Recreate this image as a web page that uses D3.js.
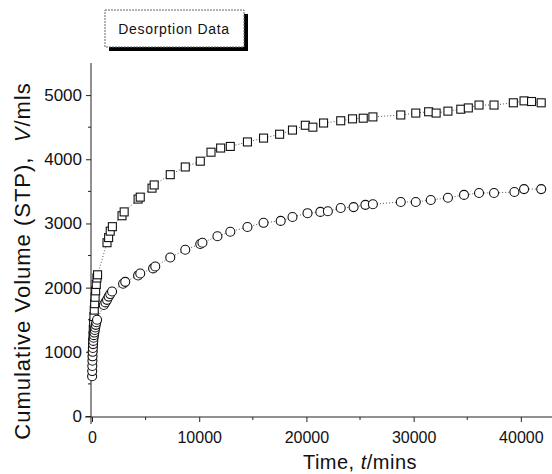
<!DOCTYPE html>
<html>
<head>
<meta charset="utf-8">
<script src="https://cdn.jsdelivr.net/npm/d3@7"></script>
<style>
  body { margin: 0; background: #fff; }
  svg { display: block; font-family: "Liberation Sans", Arial, sans-serif; }
</style>
</head>
<body>
<svg width="552" height="474"></svg>
<script>
(function (d3) {
  'use strict';

  // Upper series (squares)
  const squareTime = [40, 60, 80, 100, 120, 150, 180, 210, 250, 290, 340, 400, 460, 520,
    1400, 1550, 1700, 1900, 2800, 3000, 4300, 4500, 5600, 5800, 7300, 8700, 10100,
    11100, 12000, 12900, 14500, 16000, 17500, 18700, 19900, 20600, 21600, 23200,
    24300, 25300, 26200, 28800, 30200, 31400, 32100, 33200, 34400, 35100, 36100,
    37500, 39300, 40300, 41000, 41900];
  const squareVolume = [950, 1050, 1150, 1250, 1350, 1450, 1550, 1650, 1750, 1850, 1950, 2050, 2150, 2200,
    2700, 2780, 2880, 2950, 3120, 3180, 3380, 3410, 3550, 3600, 3760, 3880, 3970,
    4110, 4175, 4200, 4270, 4330, 4390, 4455, 4530, 4500, 4565, 4600,
    4630, 4640, 4660, 4690, 4720, 4740, 4720, 4750, 4780, 4800, 4845,
    4845, 4880, 4910, 4900, 4880];

  // Lower series (circles)
  const circleTime = [10, 20, 30, 40, 50, 60, 80, 100, 120, 150, 180, 220, 260, 300, 350, 400, 470,
    1100, 1250, 1400, 1550, 1700, 1870, 2900, 3100, 4300, 4500, 5700, 5900, 7300, 8700,
    10100, 10300, 11700, 12900, 14500, 16000, 17600, 18700, 20100, 21300, 22000,
    23200, 24400, 25500, 26200, 28800, 30200, 31600, 33200, 34700, 36100, 37500,
    39400, 40300, 41900];
  const circleVolume = [620, 700, 780, 860, 930, 1000, 1060, 1120, 1170, 1220, 1260, 1300, 1340, 1380, 1420, 1460, 1500,
    1730, 1770, 1810, 1860, 1900, 1940, 2060, 2090, 2190, 2220, 2300, 2330, 2470, 2590,
    2680, 2700, 2800, 2870, 2945, 3010, 3040, 3100, 3160, 3180, 3190,
    3240, 3255, 3290, 3300, 3335, 3335, 3365, 3400, 3445, 3475, 3475,
    3490, 3535, 3535];

  const xTicks = [0, 10000, 20000, 30000, 40000];
  const xMinorTicks = [5000, 15000, 25000, 35000];
  const yTicks = [0, 1000, 2000, 3000, 4000, 5000];
  const yMinorTicks = [500, 1500, 2500, 3500, 4500];
  const legendLabel = 'Desorption Data';

  const svg = d3.select('svg');

  const x = d3.scaleLinear().domain([0, 43000]).range([92, 553]);
  const y = d3.scaleLinear().domain([0, 5500]).range([416, 63]);

  const toPoints = (ts, vs) => ts.map((t, i) => ({ t: t, v: vs[i] }));
  const squares = toPoints(squareTime, squareVolume);
  const circles = toPoints(circleTime, circleVolume);

  // Axes
  const xAxisG = svg.append('g').attr('transform', 'translate(0,417)');
  xAxisG.call(d3.axisBottom(x).tickValues(xTicks).tickSize(5).tickSizeOuter(0).tickFormat(d3.format('d')));
  xAxisG.append('g').selectAll('line').data(xMinorTicks).enter().append('line')
    .attr('x1', d => x(d)).attr('x2', d => x(d))
    .attr('y1', 0).attr('y2', 3)
    .attr('stroke', '#222');
  xAxisG.select('.domain').attr('d', 'M85,0H552');

  const yAxisG = svg.append('g').attr('transform', 'translate(91,0)');
  yAxisG.call(d3.axisLeft(y).tickValues(yTicks).tickSize(5).tickSizeOuter(0).tickFormat(d3.format('d')));
  yAxisG.append('g').selectAll('line').data(yMinorTicks).enter().append('line')
    .attr('y1', d => y(d)).attr('y2', d => y(d))
    .attr('x1', 0).attr('x2', -3)
    .attr('stroke', '#222');
  yAxisG.select('.domain').attr('d', `M0,${y(5500)}V424`);

  svg.selectAll('.domain').attr('stroke', '#222').attr('stroke-width', 1);
  svg.selectAll('.tick line').attr('stroke', '#222');
  xAxisG.selectAll('.tick text')
    .attr('font-size', 16).attr('fill', '#111')
    .attr('dy', '1.1em');
  yAxisG.selectAll('.tick text')
    .attr('font-size', 17).attr('fill', '#111')
    .attr('x', -9);

  // Axis titles
  svg.append('text')
    .attr('transform', 'translate(30,261) rotate(-90)')
    .attr('text-anchor', 'middle')
    .attr('font-size', 22)
    .attr('letter-spacing', 1)
    .attr('fill', '#111')
    .html('Cumulative Volume (STP),&#160;&#160;<tspan font-style="italic">V</tspan>/mls');

  svg.append('text')
    .attr('x', 360).attr('y', 469)
    .attr('text-anchor', 'middle')
    .attr('font-size', 20)
    .attr('letter-spacing', 0.5)
    .attr('fill', '#111')
    .html('Time, <tspan font-style="italic">t</tspan>/mins');

  // Dotted connecting lines
  const line = d3.line().x(d => x(d.t)).y(d => y(d.v));
  [squares, circles].forEach(data => {
    svg.append('path')
      .datum(data)
      .attr('d', line)
      .attr('fill', 'none')
      .attr('stroke', '#555')
      .attr('stroke-width', 1)
      .attr('stroke-dasharray', '1,2');
  });

  // Markers
  const squareSize = 8;
  svg.append('g').selectAll('rect').data(squares).enter().append('rect')
    .attr('x', d => x(d.t) - squareSize / 2)
    .attr('y', d => y(d.v) - squareSize / 2)
    .attr('width', squareSize)
    .attr('height', squareSize)
    .attr('fill', '#fff')
    .attr('stroke', '#111')
    .attr('stroke-width', 1.1);

  svg.append('g').selectAll('circle').data(circles).enter().append('circle')
    .attr('cx', d => x(d.t))
    .attr('cy', d => y(d.v))
    .attr('r', 4.5)
    .attr('fill', '#fff')
    .attr('stroke', '#111')
    .attr('stroke-width', 1.1);

  // Legend box with drop shadow
  const legendG = svg.append('g').attr('transform', 'translate(105,10)');
  legendG.append('rect')
    .attr('x', 4).attr('y', 4)
    .attr('width', 139).attr('height', 37)
    .attr('fill', '#000');
  legendG.append('rect')
    .attr('x', 0).attr('y', 0)
    .attr('width', 139).attr('height', 37)
    .attr('fill', '#fff')
    .attr('stroke', '#666')
    .attr('stroke-width', 1)
    .attr('stroke-dasharray', '2,1');
  legendG.append('text')
    .attr('x', 69).attr('y', 24)
    .attr('text-anchor', 'middle')
    .attr('font-size', 14)
    .attr('letter-spacing', 0.7)
    .attr('fill', '#111')
    .text(legendLabel);

}(d3));
</script>
</body>
</html>
